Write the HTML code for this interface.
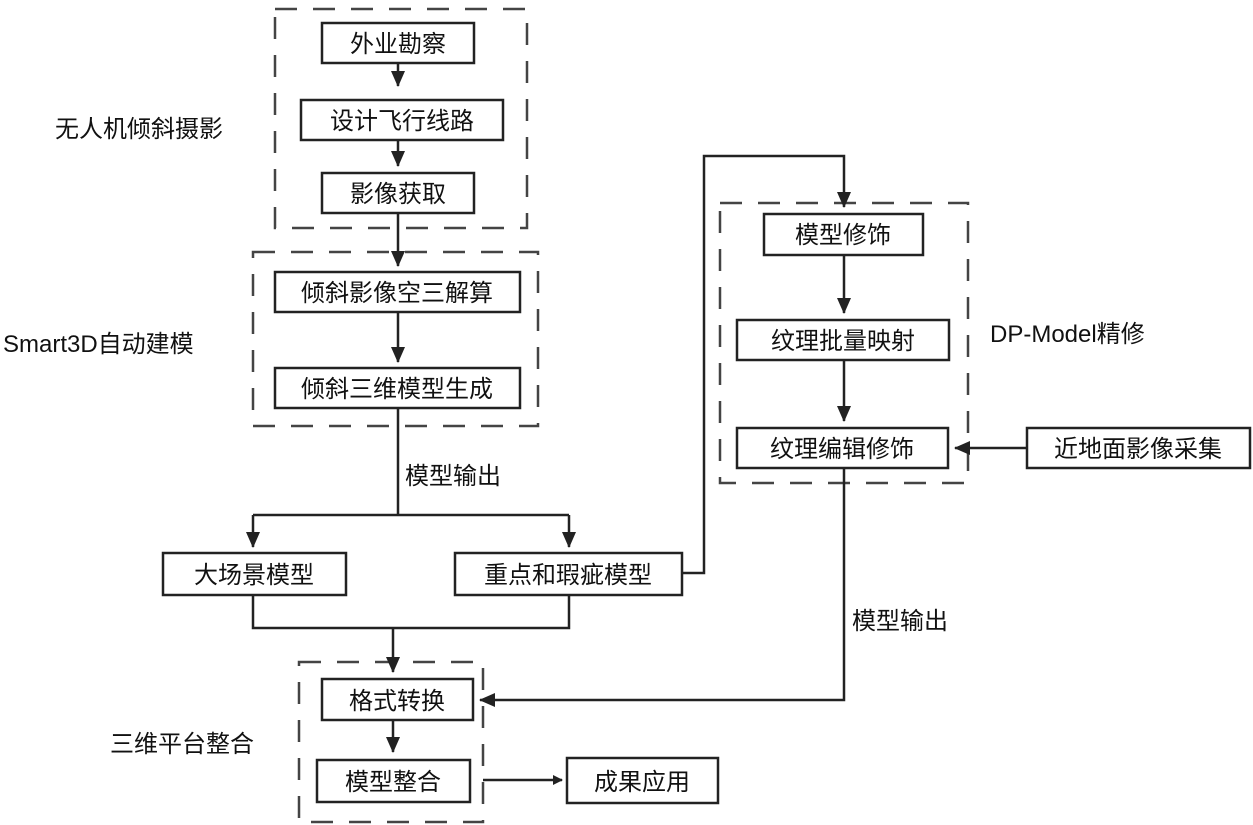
<!DOCTYPE html>
<html><head><meta charset="utf-8"><style>
body{margin:0;background:#fff;}
svg{display:block;}
text{font-family:"Liberation Sans","Noto Sans CJK SC",sans-serif;font-size:24px;fill:#111;}
.b{fill:#fff;stroke:#222;stroke-width:2.5;}
.d{fill:none;stroke:#444;stroke-width:2.5;stroke-dasharray:22,16;}
.l{fill:none;stroke:#222;stroke-width:2.5;}
</style></head><body>
<svg width="1253" height="825" viewBox="0 0 1253 825">
<defs><marker id="a" markerWidth="10" markerHeight="10" refX="9" refY="5" orient="auto" markerUnits="userSpaceOnUse"><path d="M0,0 L10,5 L0,10 z" fill="#222"/></marker>
<marker id="a2" markerWidth="16" markerHeight="14" refX="15" refY="7" orient="auto" markerUnits="userSpaceOnUse"><path d="M0,0 L16,7 L0,14 z" fill="#222"/></marker></defs>
<!-- dashed groups -->
<rect class="d" x="275" y="9" width="252" height="219"/>
<rect class="d" x="253" y="252" width="285" height="174"/>
<rect class="d" x="720" y="203" width="248" height="280"/>
<rect class="d" x="299" y="662" width="184" height="160"/>
<!-- boxes -->
<rect class="b" x="322" y="23" width="152" height="40"/><text x="398" y="52" text-anchor="middle">外业勘察</text>
<rect class="b" x="301" y="100" width="202" height="40"/><text x="402" y="129" text-anchor="middle">设计飞行线路</text>
<rect class="b" x="322" y="173" width="152" height="40"/><text x="398" y="202" text-anchor="middle">影像获取</text>
<rect class="b" x="275" y="272" width="245" height="40"/><text x="397" y="301" text-anchor="middle">倾斜影像空三解算</text>
<rect class="b" x="275" y="368" width="245" height="40"/><text x="397" y="397" text-anchor="middle">倾斜三维模型生成</text>
<rect class="b" x="163" y="553" width="183" height="42"/><text x="254" y="583" text-anchor="middle">大场景模型</text>
<rect class="b" x="455" y="553" width="227" height="42"/><text x="568" y="583" text-anchor="middle">重点和瑕疵模型</text>
<rect class="b" x="322" y="679" width="151" height="41"/><text x="397" y="709" text-anchor="middle">格式转换</text>
<rect class="b" x="317" y="760" width="153" height="42"/><text x="393" y="790" text-anchor="middle">模型整合</text>
<rect class="b" x="567" y="758" width="151" height="45"/><text x="642" y="790" text-anchor="middle">成果应用</text>
<rect class="b" x="764" y="214" width="159" height="41"/><text x="843" y="243" text-anchor="middle">模型修饰</text>
<rect class="b" x="737" y="320" width="212" height="40"/><text x="843" y="349" text-anchor="middle">纹理批量映射</text>
<rect class="b" x="737" y="428" width="211" height="40"/><text x="842" y="457" text-anchor="middle">纹理编辑修饰</text>
<rect class="b" x="1027" y="428" width="223" height="40"/><text x="1138" y="457" text-anchor="middle">近地面影像采集</text>
<!-- labels -->
<text x="55" y="137">无人机倾斜摄影</text>
<text x="3" y="352">Smart3D自动建模</text>
<text x="990" y="342">DP-Model精修</text>
<text x="405" y="484">模型输出</text>
<text x="852" y="629">模型输出</text>
<text x="110" y="752">三维平台整合</text>
<!-- connectors -->
<path class="l" d="M398,63 V86" marker-end="url(#a2)"/>
<path class="l" d="M398,140 V166" marker-end="url(#a2)"/>
<path class="l" d="M398,213 V266" marker-end="url(#a2)"/>
<path class="l" d="M398,312 V362" marker-end="url(#a2)"/>
<path class="l" d="M398,408 V515"/>
<path class="l" d="M253,515 H569"/>
<path class="l" d="M253,515 V547" marker-end="url(#a2)"/>
<path class="l" d="M569,515 V547" marker-end="url(#a2)"/>
<path class="l" d="M253,595 V628 H569 V595"/>
<path class="l" d="M393,628 V672" marker-end="url(#a2)"/>
<path class="l" d="M393,720 V752" marker-end="url(#a2)"/>
<path class="l" d="M483,780 H562" marker-end="url(#a)"/>
<path class="l" d="M682,573 H704 V156 H844 V207" marker-end="url(#a2)"/>
<path class="l" d="M844,255 V313" marker-end="url(#a2)"/>
<path class="l" d="M844,360 V421" marker-end="url(#a2)"/>
<path class="l" d="M1027,448 H955" marker-end="url(#a2)"/>
<path class="l" d="M844,468 V700 H480" marker-end="url(#a2)"/>
</svg>
</body></html>
